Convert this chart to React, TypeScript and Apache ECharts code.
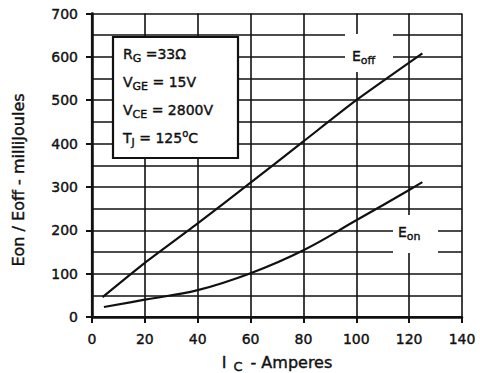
import React, { useEffect, useRef } from "react";
import * as echarts from "echarts";

// Collector current, amperes
const eoffCurrent = [4, 20, 40, 60, 80, 100, 125];
// Turn-off energy, mJ
const eoffEnergy = [46, 125, 216, 310, 405, 500, 608];

const eonCurrent = [4.5, 20, 40, 60, 80, 100, 120, 125];
// Turn-on energy, mJ
const eonEnergy = [23, 40, 62, 101, 154, 223, 293, 311];

const xTickValues = [0, 20, 40, 60, 80, 100, 120, 140];
const yTickValues = [0, 100, 200, 300, 400, 500, 600, 700];

const conditionLines = [
  ["R", "G", " =33Ω", ""],
  ["V", "GE", " = 15V", ""],
  ["V", "CE", " = 2800V", ""],
  ["T", "J", " = 125", "C"],
];

const FONT = "DejaVu Sans, Verdana, sans-serif";
const INK = "#111";
// a thin outline thickens the glyphs a little (echarts text styles)
const heavy = { textBorderColor: INK, textBorderWidth: 0.4 };
// same outline for graphic (zrender) text styles
const heavyG = { stroke: INK, lineWidth: 0.4 };

export default function App() {
  const ref = useRef<HTMLDivElement>(null);

  useEffect(() => {
    if (!ref.current) return;
    const chart = echarts.init(ref.current, null, { renderer: "svg" });

    const pairs = (xs: number[], ys: number[]) => xs.map((x, i) => [x, ys[i]]);

    const rich = {
      b: { fontSize: 14, fontFamily: FONT, fill: INK, ...heavyG },
      s: { fontSize: 11, fontFamily: FONT, fill: INK, padding: [8, 0, 0, 0], ...heavyG },
      sup: { fontSize: 10, fontFamily: FONT, fill: INK, padding: [0, 0, 9, 0], ...heavyG },
    };

    const conditionTexts = conditionLines.map((l, i) => ({
      type: "text",
      x: 123,
      y: 54 + i * 28,
      z: 102,
      style: {
        text:
          `{b|${l[0]}}{s|${l[1]}}{b|${l[2]}}` +
          (l[3] ? `{sup|o}{b|${l[3]}}` : ""),
        rich,
        verticalAlign: "middle",
      },
    }));

    const labelStyle = { color: INK, fontSize: 14, fontFamily: FONT, ...heavy };
    const gridLine = { show: true, lineStyle: { color: INK, width: 1.6 } };
    const frameLine = { show: true, lineStyle: { color: INK, width: 2.2 } };

    chart.setOption({
      animation: false,
      grid: { left: 92, right: 18, top: 13.5, bottom: 56, outerBoundsMode: "none", containLabel: false },
      xAxis: [
        {
          type: "value",
          min: xTickValues[0],
          max: xTickValues[xTickValues.length - 1],
          interval: 20,
          name: "{b|I}{s|C}{b|- Amperes}",
          nameLocation: "middle",
          nameGap: 34,
          nameTextStyle: {
            rich: {
              b: { fontSize: 16, fontFamily: FONT, color: INK, ...heavy },
              s: { fontSize: 13, fontFamily: FONT, color: INK, padding: [9, 8, 0, 7], ...heavy },
            },
          },
          axisLine: { show: true, lineStyle: { color: INK, width: 2.5 } },
          axisTick: { show: true, length: 6, lineStyle: { color: INK, width: 2 } },
          axisLabel: { ...labelStyle, margin: 15 },
          splitLine: gridLine,
        },
        {
          type: "value",
          position: "top",
          min: xTickValues[0],
          max: xTickValues[xTickValues.length - 1],
          interval: 20,
          axisLine: frameLine,
          axisTick: { show: false },
          axisLabel: { show: false },
          splitLine: { show: false },
        },
      ],
      yAxis: [
        {
          type: "value",
          min: yTickValues[0],
          max: yTickValues[yTickValues.length - 1],
          interval: 100,
          axisLine: { show: true, lineStyle: { color: INK, width: 2.5 } },
          axisTick: { show: true, length: 6, lineStyle: { color: INK, width: 2 } },
          axisLabel: { ...labelStyle, margin: 14 },
          splitLine: gridLine,
          minorTick: { show: false, splitNumber: 2 },
          minorSplitLine: gridLine,
        },
        {
          type: "value",
          position: "right",
          min: yTickValues[0],
          max: yTickValues[yTickValues.length - 1],
          interval: 100,
          axisLine: frameLine,
          axisTick: { show: false },
          axisLabel: { show: false },
          splitLine: { show: false },
        },
      ],
      series: [
        {
          name: "Eoff",
          type: "line",
          data: pairs(eoffCurrent, eoffEnergy),
          smooth: 0.2,
          symbol: "none",
          lineStyle: { color: INK, width: 2.2 },
          z: 5,
        },
        {
          name: "Eon",
          type: "line",
          data: pairs(eonCurrent, eonEnergy),
          smooth: 0.4,
          symbol: "none",
          lineStyle: { color: INK, width: 2.2 },
          z: 5,
        },
      ],
      graphic: [
        // y-axis title
        {
          type: "text",
          z: 102,
          x: 18,
          y: 180,
          rotation: Math.PI / 2,
          style: {
            text: "Eon / Eoff - milliJoules",
            fontSize: 16,
            fontFamily: FONT,
            fill: INK,
            ...heavyG,
            align: "center",
            verticalAlign: "middle",
          },
        },
        // test-condition box
        {
          type: "rect",
          z: 100,
          shape: { x: 113, y: 37, width: 125, height: 121 },
          style: { fill: "#fff", stroke: INK, lineWidth: 2.2 },
        },
        ...conditionTexts,
        // curve labels on white patches
        {
          type: "rect",
          z: 100,
          shape: { x: 345, y: 34, width: 48, height: 38 },
          style: { fill: "#fff" },
        },
        {
          type: "text",
          z: 102,
          x: 352,
          y: 56,
          style: { text: "{b|E}{s|off}", rich, verticalAlign: "middle" },
        },
        {
          type: "rect",
          z: 100,
          shape: { x: 393, y: 215, width: 45, height: 38 },
          style: { fill: "#fff" },
        },
        {
          type: "text",
          z: 102,
          x: 398,
          y: 232,
          style: { text: "{b|E}{s|on}", rich, verticalAlign: "middle" },
        },
      ],
    });

    return () => chart.dispose();
  }, []);

  return (
    <div
      ref={ref}
      style={{ position: "fixed", left: 0, top: 0, width: 480, height: 373, background: "#fff" }}
    />
  );
}
